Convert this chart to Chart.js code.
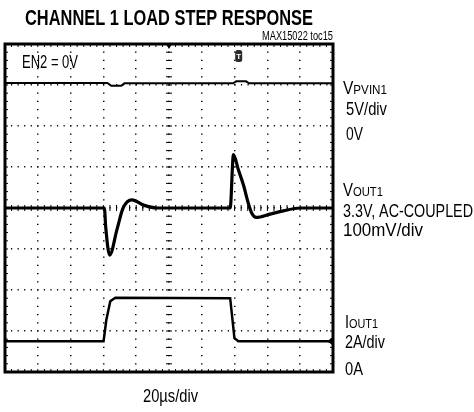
<!DOCTYPE html>
<html>
<head>
<meta charset="utf-8">
<script src="https://cdn.jsdelivr.net/npm/chart.js@4.4.1/dist/chart.umd.min.js"></script>
<style>
    html, body { margin: 0; padding: 0; background: #fff; }
    #wrap { width: 474px; height: 412px; }
</style>
</head>
<body>
<div id="wrap"><canvas id="scopeChart" width="474" height="412"></canvas></div>
<script>
// time axis: 20us/div, 10 divisions
const timeTicksUs = [0, 20, 40, 60, 80, 100, 120, 140, 160, 180, 200];

// VPVIN1, 5V/div
const pvinTimeUs = [0, 62.4, 64.8, 70.9, 72.8, 139.1, 141, 147, 148.8, 200];
const pvinVolts = [5.25, 5.25, 4.9, 4.9, 5.2, 5.2, 5.45, 5.45, 5.2, 5.2];

// VOUT1 AC-coupled, 100mV/div
const voutTimeUs = [0, 60.6, 61.4, 63.8, 68.3, 72, 77.4, 84.5, 92.7, 137.3, 139.3, 142.3, 145.4, 148.4, 150.5, 153.1, 161.6, 169.7, 179.9, 200];
const voutMv = [0, 0, -46, -115, -52, 0, 20, 7, 0, 0, 130, 93, 56, 11, -13, -23, -15, -7, 0, 0];

// IOUT1, 2A/div
const ioutTimeUs = [0, 60.1, 61.8, 64.2, 67.3, 137.3, 138.7, 139.9, 142.3, 200];
const ioutAmps = [1.5, 1.5, 2.55, 3.45, 3.62, 3.6, 2.55, 1.65, 1.5, 1.5];

const toPoints = (xs, ys) => xs.map((x, i) => ({ x: x, y: ys[i] }));

const FONT = '"Liberation Sans Narrow", "Liberation Sans", Arial, sans-serif';

// draws text pieces on one baseline, squeezed to the given width
const drawLabel = (ctx, parts, x, y, width, weight) => {
    ctx.save();
    let total = 0;
    parts.forEach(p => {
        ctx.font = `${weight || 'normal'} ${p.size}px ${FONT}`;
        p.w = ctx.measureText(p.t).width;
        total += p.w;
    });
    const sx = width ? width / total : 1;
    ctx.translate(x, y);
    ctx.scale(sx, 1);
    let cx = 0;
    parts.forEach(p => {
        ctx.font = `${weight || 'normal'} ${p.size}px ${FONT}`;
        ctx.fillText(p.t, cx, p.dy || 0);
        cx += p.w;
    });
    ctx.restore();
};

const scopeDecor = {
    id: 'scopeDecor',
    afterDraw: (chart) => {
        const ctx = chart.ctx;
        const a = chart.chartArea;
        const xs = chart.scales.x;
        const ys = chart.scales.y;
        const cx = xs.getPixelForValue(100);
        const cy = ys.getPixelForValue(0);
        const stepX = (a.right - a.left) / 50;
        const stepY = (a.bottom - a.top) / 40;

        ctx.save();
        ctx.strokeStyle = '#000';
        ctx.lineWidth = 1;
        ctx.beginPath();
        // minor ticks on the centre cross and the frame
        for (let i = 1; i < 40; i++) {
            const y = a.top + i * stepY;
            ctx.moveTo(cx - 3, y); ctx.lineTo(cx + 3, y);
            ctx.moveTo(a.left, y); ctx.lineTo(a.left + 3, y);
            ctx.moveTo(a.right, y); ctx.lineTo(a.right - 3, y);
        }
        for (let i = 1; i < 50; i++) {
            const x = a.left + i * stepX;
            ctx.moveTo(x, cy - 3); ctx.lineTo(x, cy + 3);
            ctx.moveTo(x, a.top); ctx.lineTo(x, a.top + 3);
            ctx.moveTo(x, a.bottom); ctx.lineTo(x, a.bottom - 3);
        }
        ctx.stroke();

        // frame
        ctx.lineWidth = 3;
        ctx.strokeRect(a.left, a.top, a.right - a.left, a.bottom - a.top);

        // trigger position marker
        ctx.fillStyle = '#000';
        ctx.beginPath();
        ctx.moveTo(cx - 2.5, a.top + 1); ctx.lineTo(cx + 2.5, a.top + 1); ctx.lineTo(cx, a.top + 5);
        ctx.fill();

        // trigger level badge
        const tx = xs.getPixelForValue(142.5);
        ctx.fillStyle = '#2a2a2a';
        ctx.beginPath();
        ctx.roundRect(tx - 3.5, 50, 7, 12, 2.5);
        ctx.fill();
        ctx.fillStyle = '#fff';
        ctx.font = `bold 8px ${FONT}`;
        ctx.textAlign = 'center';
        ctx.fillText('T', tx, 59);

        // IOUT1 ground marker
        const gy = chart.scales.yIout.getPixelForValue(1.5);
        ctx.fillStyle = '#000';
        ctx.beginPath();
        ctx.moveTo(a.right - 1, gy - 3.5); ctx.lineTo(a.right - 1, gy + 3.5); ctx.lineTo(a.right - 6, gy);
        ctx.fill();
        ctx.restore();

        // texts
        ctx.save();
        ctx.fillStyle = '#000';
        ctx.textAlign = 'left';
        ctx.textBaseline = 'alphabetic';
        drawLabel(ctx, [{ t: 'CHANNEL 1 LOAD STEP RESPONSE', size: 22 }], 25, 25, 288, 'bold');
        drawLabel(ctx, [{ t: 'MAX15022 toc15', size: 12 }], 262, 40, 71);
        drawLabel(ctx, [{ t: 'EN2 = 0V', size: 19 }], 22, 68, 56);

        drawLabel(ctx, [{ t: 'V', size: 18 }, { t: 'PVIN1', size: 13.5 }], 343, 94, 44);
        drawLabel(ctx, [{ t: '5V/div', size: 18 }], 346, 115, 41);
        drawLabel(ctx, [{ t: '0V', size: 18 }], 346, 140, 17);

        drawLabel(ctx, [{ t: 'V', size: 18 }, { t: 'OUT1', size: 13.5 }], 343, 196, 40);
        drawLabel(ctx, [{ t: '3.3V, AC-COUPLED', size: 18 }], 343, 217, 130);
        drawLabel(ctx, [{ t: '100mV/div', size: 18 }], 343, 236, 80);

        drawLabel(ctx, [{ t: 'I', size: 18 }, { t: 'OUT1', size: 13.5 }], 345, 328, 33);
        drawLabel(ctx, [{ t: '2A/div', size: 18 }], 345, 348, 40);
        drawLabel(ctx, [{ t: '0A', size: 18 }], 345, 375, 18);

        drawLabel(ctx, [{ t: '20\u00b5s/div', size: 18 }], 143, 402, 55);
        ctx.restore();
    }
};

const traceStyle = {
    borderColor: '#000',
    pointRadius: 0,
    fill: false,
    tension: 0
};

new Chart(document.getElementById('scopeChart').getContext('2d'), {
    type: 'line',
    data: {
        datasets: [
            Object.assign({ label: 'VPVIN1', data: toPoints(pvinTimeUs, pvinVolts), yAxisID: 'yPvin', borderWidth: 2 }, traceStyle),
            Object.assign({ label: 'VOUT1', data: toPoints(voutTimeUs, voutMv), yAxisID: 'y', borderWidth: 3.2, cubicInterpolationMode: 'monotone' }, traceStyle),
            Object.assign({ label: 'IOUT1', data: toPoints(ioutTimeUs, ioutAmps), yAxisID: 'yIout', borderWidth: 2.5 }, traceStyle)
        ]
    },
    options: {
        responsive: false,
        animation: false,
        layout: { padding: { left: 5, right: 141, top: 44, bottom: 40 } },
        plugins: {
            legend: { display: false },
            tooltip: { enabled: false }
        },
        scales: {
            x: {
                type: 'linear',
                min: 0,
                max: 200,
                afterBuildTicks: (scale) => { scale.ticks = timeTicksUs.map(v => ({ value: v })); },
                ticks: { display: false },
                grid: { color: '#000', lineWidth: 1.5, drawTicks: false },
                border: { display: false, dash: [1.2, 7.0], dashOffset: 0.6 }
            },
            y: {
                min: -400,
                max: 400,
                ticks: { display: false, stepSize: 100 },
                grid: { color: '#000', lineWidth: 1.5, drawTicks: false },
                border: { display: false, dash: [1.2, 5.37], dashOffset: 0.6 }
            },
            yPvin: { display: false, min: -30, max: 10 },
            yIout: { display: false, min: 0, max: 16 }
        }
    },
    plugins: [scopeDecor]
});
</script>
</body>
</html>
